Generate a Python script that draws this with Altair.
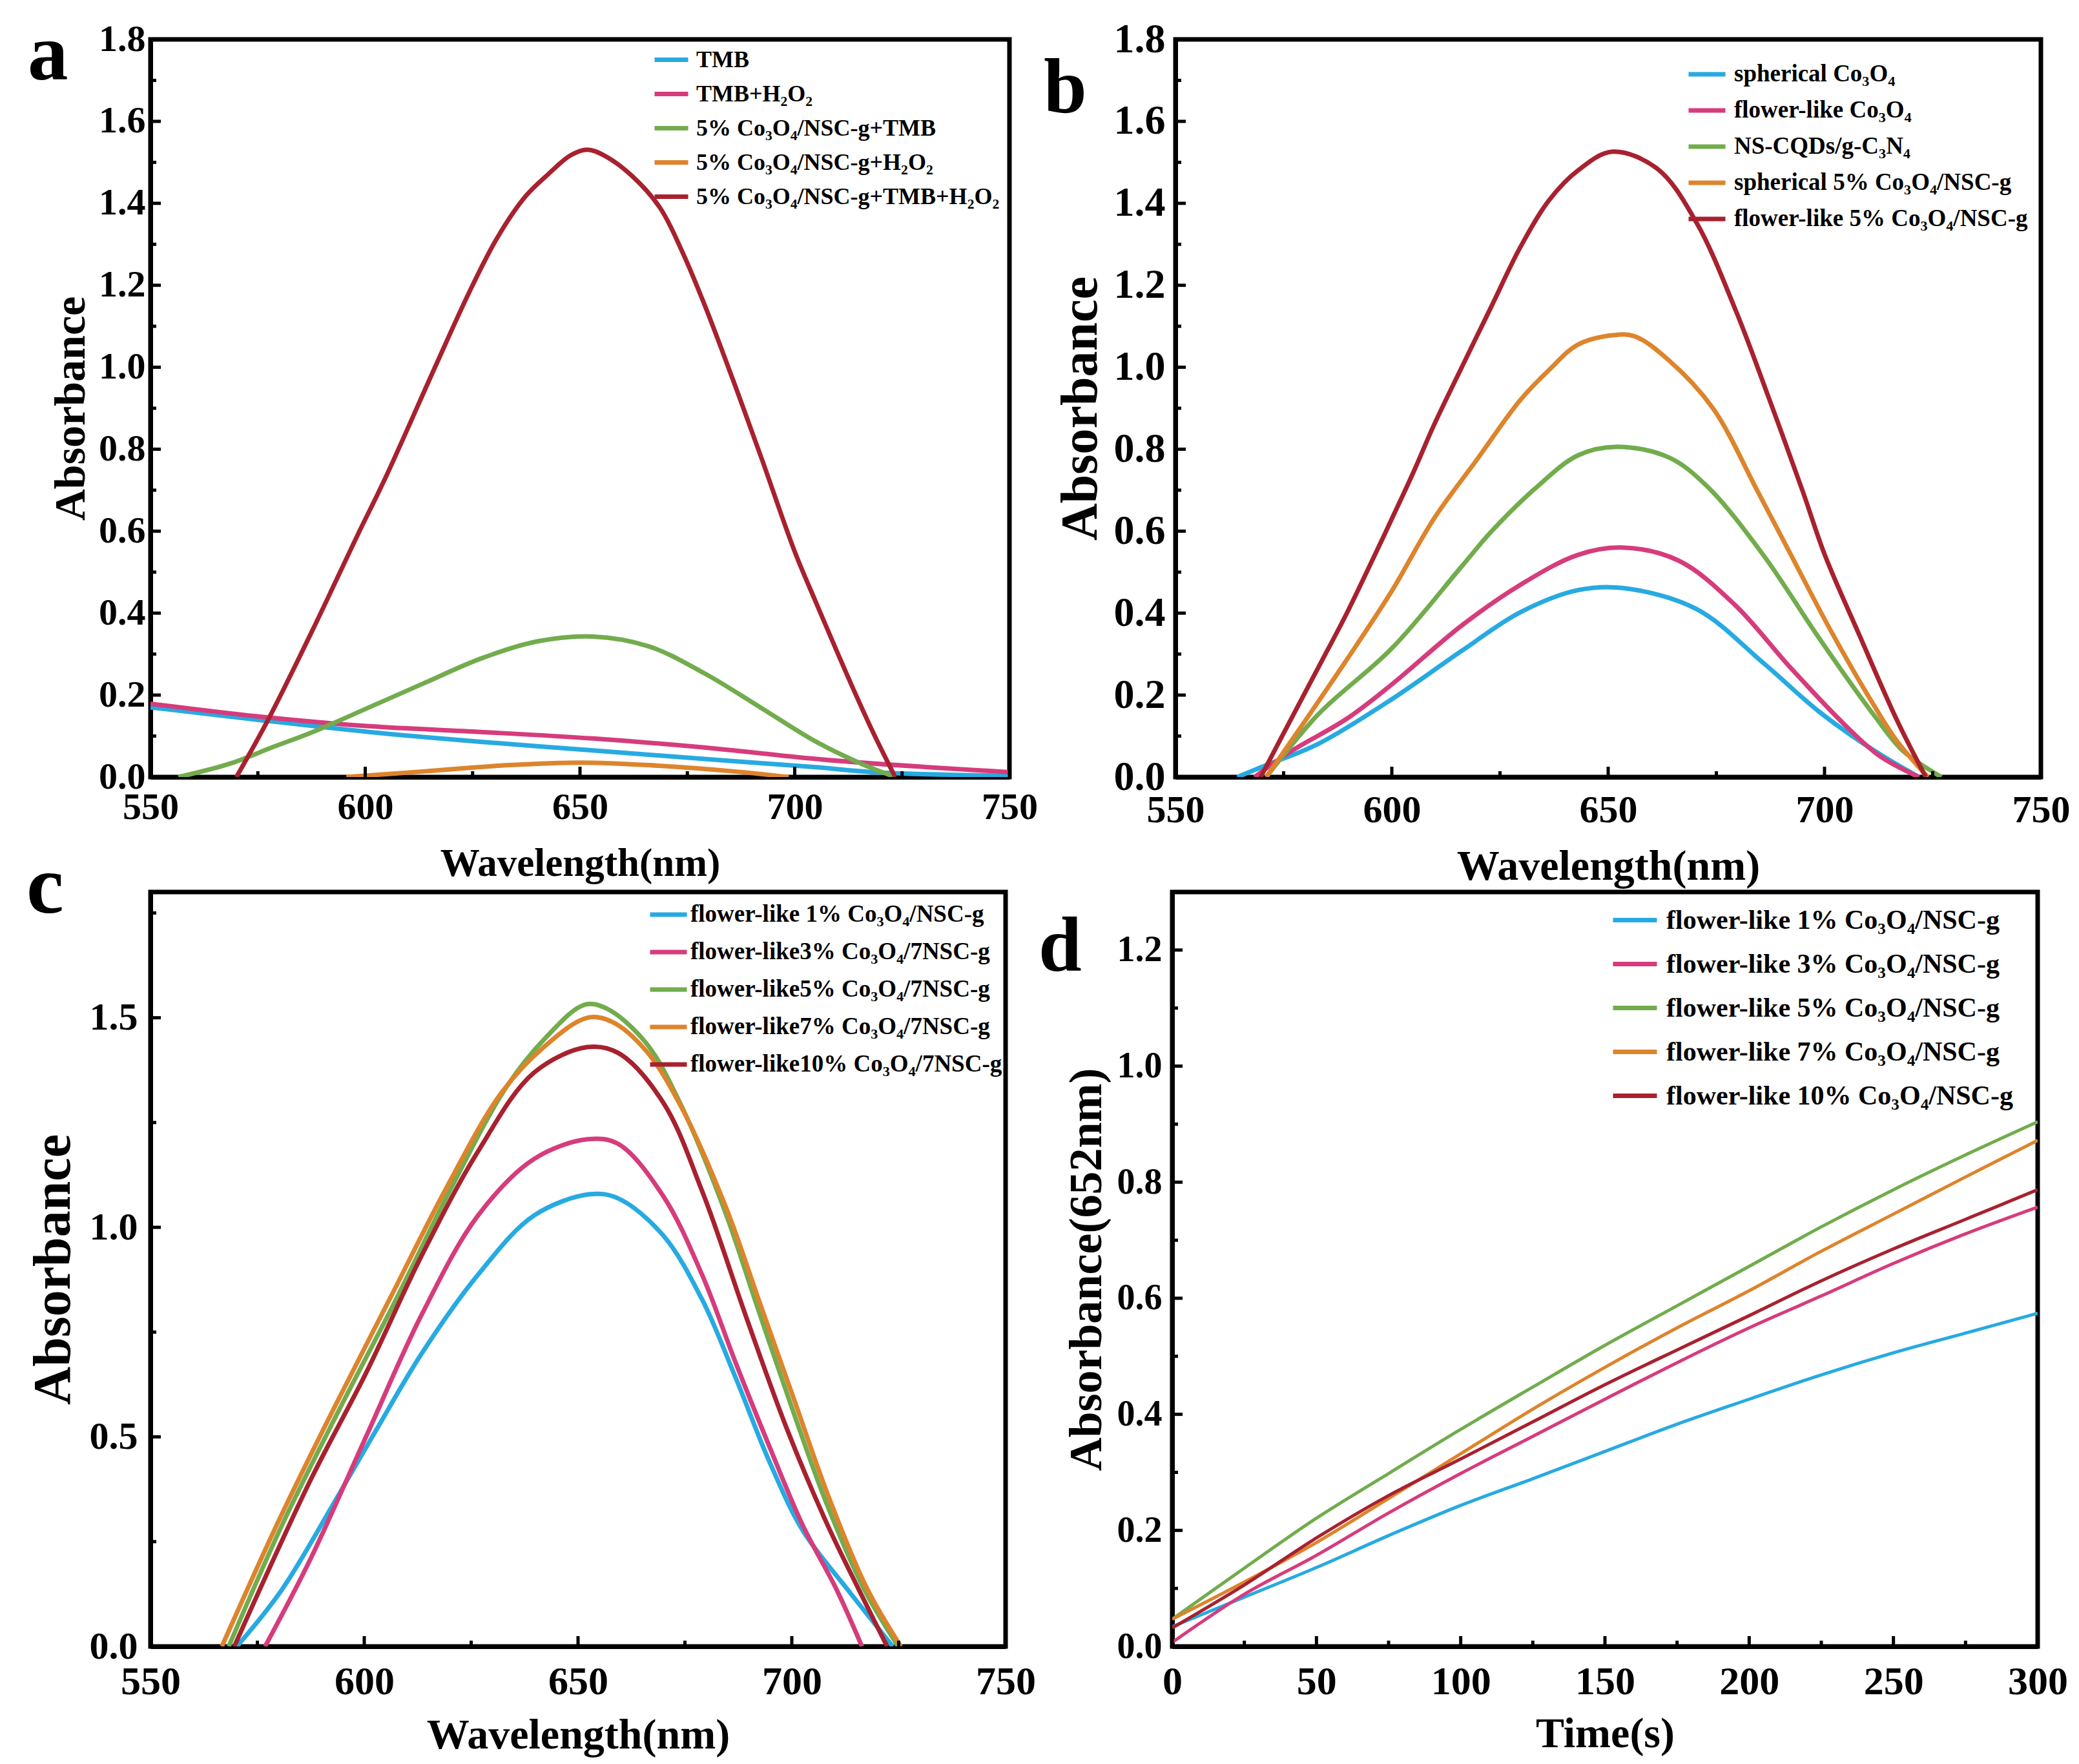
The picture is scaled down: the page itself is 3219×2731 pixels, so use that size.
import altair as alt
import pandas as pd

FONT = "Liberation Serif"
COLORS = ["#27AAE1", "#D63C7C", "#72AC4D", "#DD842C", "#A8212F"]

# ---------------- Panel a ----------------
a_names = ["TMB", "TMB+H₂O₂", "5% Co₃O₄/NSC-g+TMB", "5% Co₃O₄/NSC-g+H₂O₂", "5% Co₃O₄/NSC-g+TMB+H₂O₂"]
a_tmb_x = [550, 574.8, 600.9, 626.9, 653, 679, 705, 718, 750]
a_tmb_y = [0.17, 0.14, 0.11, 0.086, 0.065, 0.044, 0.024, 0.012, 0.003]
a_tmbh_x = [550, 574.8, 600.9, 626.9, 653, 679, 705, 731, 750]
a_tmbh_y = [0.179, 0.148, 0.124, 0.11, 0.094, 0.072, 0.044, 0.024, 0.012]
a_gt_x = [556.5, 568.3, 578.7, 587.8, 600.9, 613.9, 626.9, 640, 653, 666, 679, 692, 705, 715.6, 723.4]
a_gt_y = [0, 0.032, 0.074, 0.11, 0.17, 0.23, 0.289, 0.331, 0.343, 0.319, 0.253, 0.17, 0.086, 0.032, 0]
a_gh_x = [595.6, 613.9, 633.4, 650.4, 666, 685.6, 698.6]
a_gh_y = [0, 0.014, 0.029, 0.035, 0.029, 0.014, 0]
a_all_x = [570, 577.4, 587.8, 598.2, 604.7, 616.5, 624.3, 630.8, 637.4, 642.6, 647.8, 651.7,
           655.6, 662.2, 668.7, 673.9, 679.1, 685.6, 692.2, 700, 705.2, 713, 718.2, 723.4]
a_all_y = [0, 0.14, 0.36, 0.59, 0.73, 1.006, 1.185, 1.317, 1.418, 1.471, 1.517, 1.531,
           1.517, 1.466, 1.388, 1.28, 1.15, 0.97, 0.78, 0.55, 0.42, 0.23, 0.11, 0]

# ---------------- Panel b ----------------
b_names = ["spherical Co₃O₄", "flower-like Co₃O₄", "NS-CQDs/g-C₃N₄",
           "spherical 5% Co₃O₄/NSC-g", "flower-like 5% Co₃O₄/NSC-g"]
b_sph_x = [564.3, 571, 583, 600, 616.3, 629.7, 643, 653.6, 670.4, 685.9, 698.8, 711.7, 721.8]
b_sph_y = [0, 0.029, 0.081, 0.19, 0.309, 0.402, 0.456, 0.461, 0.41, 0.278, 0.159, 0.063, 0]
b_flw_x = [568.3, 576.3, 589.7, 600, 616.3, 629.7, 643, 653.4, 666.3, 679.2, 692.2, 705.1, 712.8, 721.8]
b_flw_y = [0, 0.06, 0.143, 0.226, 0.371, 0.469, 0.542, 0.56, 0.528, 0.421, 0.266, 0.123, 0.051, 0]
b_cqd_x = [571, 583, 600, 616.3, 623, 633, 643, 652, 664, 673, 685.9, 698.8, 711.7, 718.2, 727]
b_cqd_y = [0, 0.153, 0.314, 0.516, 0.599, 0.703, 0.785, 0.806, 0.78, 0.708, 0.541, 0.338, 0.147, 0.063, 0]
b_s5_x = [571, 579.7, 589.7, 600, 609.7, 619.7, 629.7, 636.3, 643, 651, 656, 663.9, 674.2, 684.6, 692.3, 701.3, 711.7, 716.8, 723.9]
b_s5_y = [0, 0.133, 0.288, 0.454, 0.63, 0.775, 0.92, 0.993, 1.055, 1.078, 1.076, 1.018, 0.9, 0.696, 0.541, 0.36, 0.17, 0.087, 0]
b_f5_x = [569.7, 576.3, 583, 589.7, 596.3, 600, 605, 609.7, 616.3, 623, 629.7, 636.3, 643, 651, 661.4, 670.4,
          679.5, 687.2, 695, 700.1, 707.9, 716.9, 723.4]
b_f5_y = [0, 0.133, 0.267, 0.402, 0.547, 0.63, 0.744, 0.858, 1.003, 1.148, 1.293, 1.407, 1.48, 1.526, 1.484, 1.353,
          1.138, 0.923, 0.696, 0.541, 0.35, 0.135, 0]

# ---------------- Panel c ----------------
c_names = ["flower-like 1% Co₃O₄/NSC-g", "flower-like3% Co₃O₄/7NSC-g", "flower-like5% Co₃O₄/7NSC-g",
           "flower-like7% Co₃O₄/7NSC-g", "flower-like10% Co₃O₄/7NSC-g"]
c_1_x = [570.2, 580.7, 593.8, 603, 613.5, 626.6, 639.7, 652.8, 659.4, 669.9, 679, 686.9, 694.8, 702.6, 713.1, 723.6]
c_1_y = [0, 0.135, 0.358, 0.52, 0.70, 0.887, 1.028, 1.079, 1.069, 0.981, 0.828, 0.64, 0.44, 0.276, 0.135, 0]
c_3_x = [576.8, 587.3, 600.4, 613.5, 626.6, 639.7, 652.2, 659.4, 669.9, 679, 686.9, 694.8, 702.6, 710.5, 716.4]
c_3_y = [0, 0.206, 0.5, 0.793, 1.028, 1.163, 1.21, 1.199, 1.075, 0.887, 0.676, 0.476, 0.288, 0.135, 0]
c_5_x = [568.3, 580.7, 593.8, 606.9, 620, 633.2, 642.3, 651.5, 656.7, 665.9, 673.8, 684.3, 692.1, 700, 707.9, 717, 724.9]
c_5_y = [0, 0.288, 0.558, 0.817, 1.087, 1.334, 1.451, 1.531, 1.522, 1.44, 1.298, 1.04, 0.805, 0.57, 0.347, 0.135, 0]
c_7_x = [566.7, 580, 593, 606, 619, 632, 642, 652.2, 658, 666, 674, 684.5, 692.5, 700.5, 708.5, 717.5, 725.5]
c_7_y = [0, 0.3, 0.57, 0.83, 1.09, 1.32, 1.43, 1.50, 1.49, 1.42, 1.29, 1.05, 0.82, 0.59, 0.36, 0.14, 0]
c_10_x = [569.6, 587.3, 600.4, 613.5, 626.6, 639.7, 652.2, 659.4, 669.9, 679, 689.5, 698.7, 707.9, 715.7, 722.3]
c_10_y = [0, 0.394, 0.652, 0.934, 1.181, 1.369, 1.43, 1.416, 1.298, 1.087, 0.781, 0.523, 0.3, 0.135, 0]

# ---------------- Panel d ----------------
d_names = ["flower-like 1% Co₃O₄/NSC-g", "flower-like 3% Co₃O₄/NSC-g", "flower-like 5% Co₃O₄/NSC-g",
           "flower-like 7% Co₃O₄/NSC-g", "flower-like 10% Co₃O₄/NSC-g"]
d_time = [0, 25, 50, 75, 100, 125, 150, 175, 200, 225, 250, 275, 300]
d_1 = [0.034, 0.085, 0.136, 0.191, 0.243, 0.289, 0.336, 0.383, 0.426, 0.468, 0.506, 0.54, 0.574]
d_3 = [0.007, 0.09, 0.157, 0.23, 0.298, 0.362, 0.426, 0.489, 0.549, 0.604, 0.66, 0.711, 0.757]
d_5 = [0.047, 0.135, 0.221, 0.298, 0.374, 0.447, 0.519, 0.587, 0.655, 0.723, 0.787, 0.847, 0.904]
d_7 = [0.047, 0.111, 0.179, 0.255, 0.332, 0.409, 0.481, 0.549, 0.613, 0.681, 0.745, 0.809, 0.872]
d_10 = [0.032, 0.106, 0.187, 0.26, 0.323, 0.387, 0.451, 0.511, 0.570, 0.630, 0.685, 0.736, 0.787]

# tick values
wl_major = [550, 600, 650, 700, 750]
wl_minor = [575, 625, 675, 725]
ab_major = [0.0, 0.2, 0.4, 0.6, 0.8, 1.0, 1.2, 1.4, 1.6, 1.8]
ab_minor = [0.1, 0.3, 0.5, 0.7, 0.9, 1.1, 1.3, 1.5, 1.7]
c_major = [0.0, 0.5, 1.0, 1.5]
c_minor = [0.25, 0.75, 1.25, 1.75]
t_major = [0, 50, 100, 150, 200, 250, 300]
t_minor = [25, 75, 125, 175, 225, 275]
d_major = [0.0, 0.2, 0.4, 0.6, 0.8, 1.0, 1.2]
d_minor = [0.1, 0.3, 0.5, 0.7, 0.9, 1.1]


def panel(series, names, W, H, xdom, ydom, xmaj, xmin, ymaj, ymin, xfmt, yfmt,
          xtitle, ytitle, xtfs, ytfs, xlab, ylab, ylpad, ytpad, xlpad, xtpad,
          letter, lx, ly, lfs, leg, sw, spacers):
    rows = []
    for name, xs, ys in series:
        for i, (xv, yv) in enumerate(zip(xs, ys)):
            rows.append({"x": xv, "y": yv, "s": name, "o": i})
    df = pd.DataFrame(rows)
    X = alt.X("x:Q", scale=alt.Scale(domain=xdom, nice=False, zero=False),
              axis=alt.Axis(values=xmaj, format=xfmt, title=xtitle, titleFontSize=xtfs,
                            labelFontSize=xlab, labelPadding=xlpad, titlePadding=xtpad, labelFlush=False))
    Y = alt.Y("y:Q", scale=alt.Scale(domain=ydom, nice=False, zero=False),
              axis=alt.Axis(values=ymaj, format=yfmt, title=ytitle, titleFontSize=ytfs,
                            labelFontSize=ylab, labelPadding=ylpad, titlePadding=ytpad, labelFlush=False))
    lines = alt.Chart(df).mark_line(strokeWidth=sw, clip=True, interpolate="catmull-rom").encode(
        x=X, y=Y,
        color=alt.Color("s:N", sort=names, scale=alt.Scale(domain=names, range=COLORS),
                        legend=alt.Legend(title=None, orient="none", legendX=leg["x"], legendY=leg["y"],
                                          symbolType="stroke", symbolStrokeWidth=7,
                                          symbolSize=leg["size"], labelFont=FONT, labelFontWeight="bold",
                                          labelFontSize=leg["fs"], labelColor="black", labelLimit=2000,
                                          rowPadding=leg["rp"], labelOffset=leg["lo"], padding=0)),
        order="o:Q")
    xt_maj = alt.Chart(pd.DataFrame({"x": xmaj})).mark_rule(color="black", strokeWidth=5).encode(
        x=X, y=alt.value(H), y2=alt.value(H - 16))
    xt_min = alt.Chart(pd.DataFrame({"x": xmin})).mark_rule(color="black", strokeWidth=5).encode(
        x=X, y=alt.value(H), y2=alt.value(H - 9))
    yt_maj = alt.Chart(pd.DataFrame({"y": ymaj})).mark_rule(color="black", strokeWidth=5).encode(
        y=Y, x=alt.value(0), x2=alt.value(16))
    yt_min = alt.Chart(pd.DataFrame({"y": ymin})).mark_rule(color="black", strokeWidth=5).encode(
        y=Y, x=alt.value(0), x2=alt.value(9))
    let = alt.Chart(pd.DataFrame({"t": [letter]})).mark_text(
        font=FONT, fontWeight="bold", fontSize=lfs, align="left", baseline="alphabetic", color="black"
    ).encode(text="t:N", x=alt.value(lx), y=alt.value(ly))
    layers = [lines, xt_maj, xt_min, yt_maj, yt_min, let]
    # invisible layout anchors that fix each panel's outer extent
    for sx, sy in spacers:
        layers.append(alt.Chart(pd.DataFrame({"t": ["."]})).mark_text(
            font=FONT, fontSize=10, align="left", baseline="top", opacity=0
        ).encode(text="t:N", x=alt.value(sx), y=alt.value(sy)))
    return alt.layer(*layers).properties(width=W, height=H)


HR1 = 1142
HR2 = 1168
WA, WB, WC, WD = 1330, 1340, 1324, 1340

pa = panel([(a_names[0], a_tmb_x, a_tmb_y), (a_names[1], a_tmbh_x, a_tmbh_y), (a_names[2], a_gt_x, a_gt_y),
            (a_names[3], a_gh_x, a_gh_y), (a_names[4], a_all_x, a_all_y)], a_names,
           WA, HR1, [550, 750], [0, 1.8], wl_major, wl_minor, ab_major, ab_minor, "d", ".1f",
           "Wavelength(nm)", "Absorbance", 61, 68, 58, 58, 8, 8, 18, 28,
           "a", -190, 62, 125, {"x": 777, "y": 2, "size": 2704, "fs": 36, "rp": 5, "lo": 9}, 7,
           [(-221, 500), (WA + 60, 500), (600, -49), (600, HR1 + 200)])

pb = panel([(b_names[0], b_sph_x, b_sph_y), (b_names[1], b_flw_x, b_flw_y), (b_names[2], b_cqd_x, b_cqd_y),
            (b_names[3], b_s5_x, b_s5_y), (b_names[4], b_f5_x, b_f5_y)], b_names,
           WB, HR1, [550, 750], [0, 1.8], wl_major, wl_minor, ab_major, ab_minor, "d", ".1f",
           "Wavelength(nm)", "Absorbance", 66, 80, 60, 64, 16, 10, 22, 25,
           "b", -204, 113, 120, {"x": 791, "y": 22, "size": 3249, "fs": 37, "rp": 6, "lo": 10}, 7,
           [(-212, 500), (600, -49), (600, HR1 + 200)])

pc = panel([(c_names[0], c_1_x, c_1_y), (c_names[1], c_3_x, c_3_y), (c_names[2], c_5_x, c_5_y),
            (c_names[3], c_7_x, c_7_y), (c_names[4], c_10_x, c_10_y)], c_names,
           WC, HR2, [550, 750], [0, 1.8], wl_major, wl_minor, c_major, c_minor, "d", ".1f",
           "Wavelength(nm)", "Absorbance", 66, 82, 62, 60, 20, 14, 24, 20,
           "c", -192, 32, 130, {"x": 770, "y": 3, "size": 3249, "fs": 37, "rp": 8, "lo": 2}, 7,
           [(-221, 500), (600, -80)])

pd_ = panel([(d_names[0], d_time, d_1), (d_names[1], d_time, d_3), (d_names[2], d_time, d_5),
             (d_names[3], d_time, d_7), (d_names[4], d_time, d_10)], d_names,
            WD, HR2, [0, 300], [0, 1.3], t_major, t_minor, d_major, d_minor, "d", ".1f",
            "Time(s)", "Absorbance(652nm)", 66, 72, 62, 56, 16, 10, 24, 18,
            "d", -207, 122, 120, {"x": 679, "y": 6, "size": 4624, "fs": 42, "rp": 9, "lo": 11}, 5,
            [(-205, 500), (600, -80)])

chart = alt.concat(
    pa, pb, pc, pd_, columns=2, align="none", spacing={"row": -120, "column": -25}
).resolve_scale(color="independent").properties(
    padding={"left": 0, "top": 0, "right": 0, "bottom": 0}, background="white"
).configure_view(stroke="black", strokeWidth=7).configure_axis(
    labelFont=FONT, labelFontWeight="bold", labelColor="black", labelOverlap=False,
    titleFont=FONT, titleFontWeight="bold", titleColor="black",
    domainColor="black", domainWidth=7, ticks=False, grid=False,
)

chart.save("out.html", embed_options={"renderer": "svg", "actions": False})
